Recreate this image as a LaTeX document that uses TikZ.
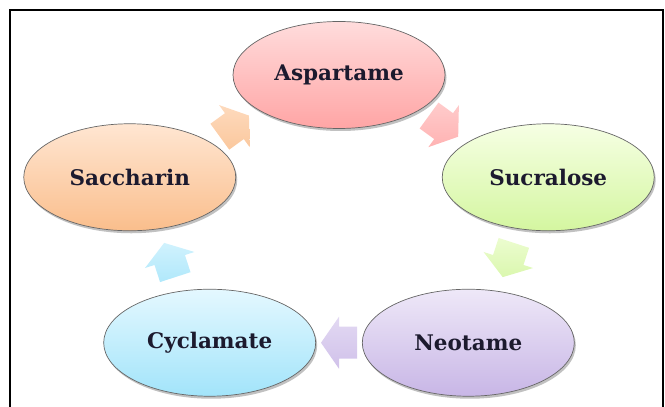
\documentclass[tikz,border=0pt]{standalone}
\usepackage{fontspec}
\setmainfont{DejaVu Serif}
\usetikzlibrary{shapes.geometric,shadows,calc}

\definecolor{aspTop}{RGB}{255,220,220}
\definecolor{aspBot}{RGB}{255,165,165}
\definecolor{sucTop}{RGB}{246,255,228}
\definecolor{sucBot}{RGB}{212,246,160}
\definecolor{neoTop}{RGB}{238,232,248}
\definecolor{neoBot}{RGB}{200,182,230}
\definecolor{cycTop}{RGB}{228,248,255}
\definecolor{cycBot}{RGB}{162,228,250}
\definecolor{sacTop}{RGB}{255,230,210}
\definecolor{sacBot}{RGB}{250,190,140}
\definecolor{txtcol}{RGB}{28,26,46}

\tikzset{
  sweetener/.style={ellipse, draw=black!60, line width=0.7pt,
    minimum width=212pt, minimum height=107pt, inner sep=0pt,
    font=\fontsize{21.5}{24}\selectfont\bfseries, text=txtcol,
    drop shadow={shadow xshift=1.5pt, shadow yshift=-2.5pt, opacity=0.35, fill=black!70}},
  cyclearrow/.pic={
    \path[pic actions] (-18,-16) -- (0,-16) -- (0,-26) -- (18,0) -- (0,26) -- (0,16) -- (-18,16) -- cycle;
  }
}

\begin{document}
\begin{tikzpicture}[x=1pt,y=1pt]
\useasboundingbox (0,0) rectangle (665,407);

% frame
\draw[line width=1.8pt] (10,0) -- (10,397) -- (663,397) -- (663,0);

\coordinate (mid) at (339,184);

% the five sweeteners round the cycle
\foreach \nm/\ang/\txt in {asp/90/Aspartame, suc/18/Sucralose, neo/-54/Neotame, cyc/-126/Cyclamate, sac/162/Saccharin}
  \node[sweetener, top color=\nm Top, bottom color=\nm Bot] (\nm) at ($(mid)+(\ang:220pt and 148pt)$) {\txt};

% block arrows between them
\foreach \a/\b/\rot in {asp/suc/-36, suc/neo/-108, neo/cyc/180, cyc/sac/108, sac/asp/36}
  \pic[rotate=\rot, top color=\a Top!70!\a Bot, bottom color=\a Bot!85!white] at ($(\a)!.5!(\b)$) {cyclearrow};

\end{tikzpicture}
\end{document}
